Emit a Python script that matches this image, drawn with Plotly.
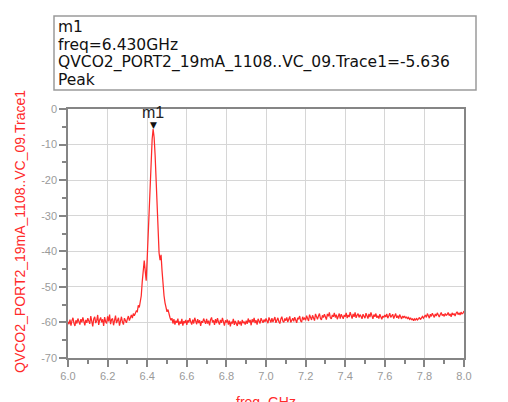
import numpy as np
import plotly.graph_objects as go

# ---------------- data ----------------
FREQ_START = 6.0   # GHz
FREQ_STEP = 0.005  # GHz

power_dbm = [
    # 6.00 - 6.095
    -59.8, -60.5, -59.2, -60.9, -59.5, -58.7, -60.2, -61.0, -59.4, -60.3, -58.9, -59.9, -60.6, -59.1, -60.0, -58.6, -59.7, -60.8, -59.3, -60.1,
    # 6.10
    -58.8, -59.6, -60.4, -58.2, -59.9, -61.1, -59.0, -58.4, -60.2, -59.5, -57.9, -60.7, -59.3, -58.6, -60.0, -59.1, -61.0, -58.5, -59.8, -60.3,
    # 6.20
    -58.3, -59.7, -57.8, -60.5, -59.2, -58.9, -60.8, -59.4, -58.1, -60.2, -59.6, -58.7, -60.9, -59.0, -58.4, -59.9, -60.6, -58.8, -59.3, -60.1,
    # 6.30
    -59.0, -58.2, -59.5, -58.6, -57.9, -58.8, -57.5, -58.1, -57.2, -56.8, -57.0, -55.2, -55.8, -54.0, -52.5, -48.5, -44.8, -42.6, -45.5, -48.3,
    # 6.40
    -42.0, -35.5, -28.0, -20.5, -13.5, -8.5, -5.636, -8.0, -13.0, -20.0, -29.0, -38.5, -40.5, -42.5, -41.0, -45.5, -50.0, -52.5, -54.5, -55.8,
    # 6.50
    -57.0, -56.4, -58.0, -58.6, -59.4, -58.8, -60.3, -59.1, -60.6, -59.5, -60.1, -58.9, -60.8, -59.7, -60.4, -59.0, -60.9, -59.6, -60.2, -59.3,
    # 6.60
    -60.7, -59.4, -60.0, -58.8, -59.9, -60.6, -59.2, -60.3, -58.7, -59.8, -60.5, -59.1, -60.2, -59.4, -61.0, -59.6, -60.1, -58.9, -59.7, -60.4,
    # 6.70
    -59.0, -60.3, -59.5, -60.8, -59.2, -58.6, -60.0, -59.4, -60.7, -59.1, -60.2, -58.8, -59.9, -60.6, -59.3, -60.1, -58.7, -59.6, -60.9, -59.4,
    # 6.80
    -60.0, -59.2, -60.6, -59.5, -61.1, -59.8, -60.3, -59.0, -60.7, -59.6, -60.1, -61.0, -59.4, -60.5, -59.7, -60.9, -59.3, -60.2, -59.8, -60.6,
    # 6.90
    -59.5, -60.4, -58.9, -60.0, -59.3, -60.8, -59.1, -59.9, -58.7, -60.2, -59.4, -60.6, -59.0, -59.7, -60.3, -58.8, -59.6, -60.1, -59.2, -59.8,
    # 7.00
    -58.9, -59.7, -60.2, -58.6, -59.4, -60.0, -58.8, -59.9, -59.2, -58.5, -60.1, -59.3, -58.7, -59.8, -60.3, -59.0, -58.4, -59.6, -60.0, -58.9,
    # 7.10
    -59.5, -58.6, -59.9, -59.1, -58.3, -60.0, -59.2, -58.8, -59.7, -58.5, -59.3, -60.1, -58.7, -59.0, -58.2, -59.6, -59.9, -58.4, -59.1, -58.8,
    # 7.20
    -59.4, -58.1, -58.9, -59.6, -57.8, -58.7, -59.3, -58.0, -58.8, -59.5, -57.6, -58.4, -59.1, -58.2, -57.5, -58.9, -59.3, -58.0, -58.6, -57.7,
    # 7.30
    -58.8, -59.2, -57.6, -58.3, -57.2, -58.7, -59.0, -57.9, -58.4, -57.3, -58.6, -57.8, -59.1, -58.2, -57.5, -58.9, -57.7, -58.3, -59.0, -57.9,
    # 7.40
    -58.4, -57.3, -58.8, -57.9, -58.5, -57.1, -58.2, -58.9, -57.6, -58.4, -57.2, -58.7, -58.0, -57.5, -58.6, -57.8, -58.3, -59.0, -57.7, -58.2,
    # 7.50
    -58.8, -57.4, -58.1, -58.9, -57.6, -58.5, -57.2, -58.3, -59.0, -57.8, -58.4, -57.5, -58.7, -58.1, -58.9, -57.7, -58.4, -59.1, -58.2, -58.6,
    # 7.60
    -57.9, -58.5, -57.6, -58.8, -58.2, -57.4, -58.6, -58.0, -57.7, -58.9, -58.3, -57.5, -58.7, -58.1, -58.9, -57.8, -58.4, -59.0, -58.2, -58.6,
    # 7.70
    -58.2, -58.8, -58.4, -59.0, -58.6, -59.1, -58.7, -59.3, -58.9, -59.5, -59.0, -59.4, -58.8, -59.3, -59.0, -58.6, -59.2, -58.7, -58.3, -58.8,
    # 7.80
    -58.2, -57.9, -58.6, -57.5, -58.1, -58.8, -57.7, -58.3, -57.4, -58.0, -58.6, -57.6, -58.2, -57.3, -58.0, -58.5, -57.8, -57.2, -58.1, -57.7,
    # 7.90
    -58.3, -57.5, -58.0, -57.8, -57.2, -58.1, -57.6, -58.4, -57.3, -57.9, -57.5, -58.2, -57.4, -57.0, -57.8, -57.3, -57.9, -57.1, -57.6, -57.4,
    # 8.00
    -56.8,
]

x_tickvals = [6.0, 6.2, 6.4, 6.6, 6.8, 7.0, 7.2, 7.4, 7.6, 7.8, 8.0]
x_ticktext = ["6.0", "6.2", "6.4", "6.6", "6.8", "7.0", "7.2", "7.4", "7.6", "7.8", "8.0"]
y_tickvals = [0, -10, -20, -30, -40, -50, -60, -70]
y_ticktext = ["0", "-10", "-20", "-30", "-40", "-50", "-60", "-70"]

trace_name = "QVCO2_PORT2_19mA_1108..VC_09.Trace1"
marker_name = "m1"

# ---------------- figure ----------------
freq = np.round(FREQ_START + FREQ_STEP * np.arange(len(power_dbm)), 3)
power = np.array(power_dbm)
ipk = int(np.argmax(power))
pk_f, pk_p = float(freq[ipk]), float(power[ipk])

W, H = 508, 402
L, R, T, B = 68, 44, 109, 44
PW, PH = W - L - R, H - T - B

def px(xp):
    return (xp - L) / PW

def py(yp):
    return (H - B - yp) / PH

fig = go.Figure()
fig.add_trace(go.Scatter(x=freq, y=power, mode="lines",
                         line=dict(color="#ff2a2a", width=1.25),
                         hoverinfo="skip", showlegend=False))

FONT = "Arial, Liberation Sans, sans-serif"
axis_common = dict(showline=True, linecolor="#858585", linewidth=1.5, mirror=True,
                   showgrid=True, gridcolor="#d6d6d6", gridwidth=1,
                   ticks="outside", ticklen=7, tickcolor="#858585", tickwidth=1.5,
                   tickfont=dict(family=FONT, size=11, color="#9a9a9a"),
                   zeroline=False, fixedrange=True)

fig.update_xaxes(range=[6.0, 8.0], tickmode="array", tickvals=x_tickvals, ticktext=x_ticktext,
                 minor=dict(tickmode="linear", tick0=6.0, dtick=0.1, ticks="outside",
                            ticklen=4, tickcolor="#858585", tickwidth=1.5, showgrid=False),
                 **axis_common)
fig.update_yaxes(range=[-70, 0], tickmode="array", tickvals=y_tickvals, ticktext=y_ticktext,
                 minor=dict(tickmode="linear", tick0=0, dtick=5, ticks="outside",
                            ticklen=4, tickcolor="#858585", tickwidth=1.5, showgrid=False),
                 **axis_common)

annotations = []
# marker triangle and label
annotations.append(dict(x=pk_f, y=pk_p, xref="x", yref="y", text="\u25BC", showarrow=False,
                        xanchor="center", yanchor="bottom", yshift=-3,
                        font=dict(family="DejaVu Sans", size=9, color="#111111")))
annotations.append(dict(x=pk_f, y=pk_p, xref="x", yref="y", text=marker_name, showarrow=False,
                        xanchor="center", yanchor="bottom", yshift=6,
                        font=dict(family=FONT, size=16, color="#222222")))
# info box lines
box_lines = [marker_name,
             f"freq={pk_f:.3f}GHz",
             f"{trace_name}={pk_p:.3f}",
             "Peak"]
line_y = [26.5, 44.5, 62.5, 80.5]
for txt, yy in zip(box_lines, line_y):
    annotations.append(dict(x=px(56), y=py(yy), xref="paper", yref="paper", text=txt,
                            showarrow=False, xanchor="left", yanchor="middle",
                            font=dict(family="DejaVu Sans", size=15.5, color="#111111")))
# axis titles
annotations.append(dict(x=px(20), y=py(232), xref="paper", yref="paper", text=trace_name,
                        textangle=-90, showarrow=False, xanchor="center", yanchor="middle",
                        font=dict(family=FONT, size=14, color="#ff2a2a")))
annotations.append(dict(x=px(266), y=py(392), xref="paper", yref="paper", text="freq, GHz",
                        showarrow=False, xanchor="center", yanchor="top",
                        font=dict(family=FONT, size=14, color="#ff2a2a")))

shapes = [dict(type="rect", xref="paper", yref="paper",
               x0=px(54), x1=px(476), y0=py(90), y1=py(16),
               line=dict(color="#9a9a9a", width=1.5), fillcolor="white", layer="above")]

fig.update_layout(width=W, height=H, margin=dict(l=L, r=R, t=T, b=B),
                  paper_bgcolor="white", plot_bgcolor="white",
                  showlegend=False, annotations=annotations, shapes=shapes)

fig.write_html("out.html", config={"displayModeBar": False})
